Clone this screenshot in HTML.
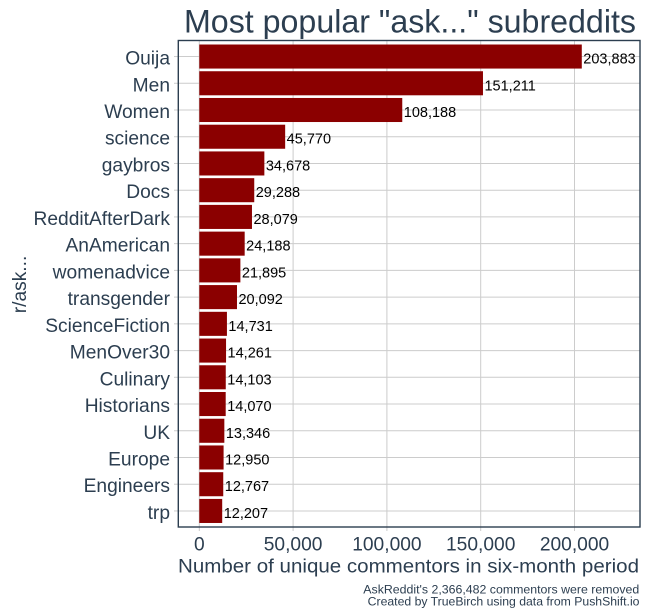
<!DOCTYPE html>
<html><head><meta charset="utf-8"><style>
html,body{margin:0;padding:0;background:#fff;}
svg{display:block;}
text{font-family:"Liberation Sans",Arial,sans-serif;}
</style></head><body>
<svg width="648" height="616" viewBox="0 0 648 616" xmlns="http://www.w3.org/2000/svg">
<rect width="648" height="616" fill="#fff"/>
<text x="184" y="32.5" font-size="32" fill="#2c3e50" textLength="452" lengthAdjust="spacingAndGlyphs">Most popular "ask..." subreddits</text>
<g id="grid" stroke="#cccccc" stroke-width="1">
</g>
<g id="bars"></g>
<rect x="178.3" y="40.5" width="461.7" height="486.5" fill="none" stroke="#2c3e50" stroke-width="1.4"/>
<g font-size="19.2" fill="#2c3e50" text-anchor="middle">
<text x="199.3" y="550.7">0</text>
<text x="293.1" y="550.7">50,000</text>
<text x="386.9" y="550.7">100,000</text>
<text x="480.7" y="550.7">150,000</text>
<text x="574.5" y="550.7">200,000</text>
</g>
<text x="408.5" y="572.5" font-size="19.5" fill="#2c3e50" text-anchor="middle" textLength="461" lengthAdjust="spacingAndGlyphs">Number of unique commentors in six-month period</text>
<text x="26" y="284.5" font-size="19.2" fill="#2c3e50" text-anchor="middle" transform="rotate(-90 26 284.5)">r/ask...</text>
<g font-size="12.2" fill="#2c3e50">
<text x="363.3" y="593.3" textLength="276" lengthAdjust="spacingAndGlyphs">AskReddit's 2,366,482 commentors were removed</text>
<text x="367.7" y="605.3" textLength="271.8" lengthAdjust="spacingAndGlyphs">Created by TrueBirch using data from PushShift.io</text>
</g>
</svg>
<script>
(function(){
var ns="http://www.w3.org/2000/svg";
var data=[["Ouija",203883],["Men",151211],["Women",108188],["science",45770],["gaybros",34678],["Docs",29288],["RedditAfterDark",28079],["AnAmerican",24188],["womenadvice",21895],["transgender",20092],["ScienceFiction",14731],["MenOver30",14261],["Culinary",14103],["Historians",14070],["UK",13346],["Europe",12950],["Engineers",12767],["trp",12207]];
var grid=document.getElementById("grid");
var bars=document.getElementById("bars");
function el(n,a,p){var e=document.createElementNS(ns,n);for(var k in a)e.setAttribute(k,a[k]);p.appendChild(e);return e;}
function fmt(v){return String(v).replace(/\B(?=(\d{3})+(?!\d))/g,",");}
var x0=199.3,s=0.001876,top=40.5,step=26.73;
[0,50000,100000,150000,200000].forEach(function(v){var x=x0+v*s;
el("line",{x1:x,y1:40.5,x2:x,y2:527},grid);
el("line",{x1:x,y1:527,x2:x,y2:531},grid);});
data.forEach(function(d,i){var c=top+(0.6+i)*step;
el("line",{x1:178.3,y1:c,x2:640,y2:c},grid);
el("line",{x1:174,y1:c,x2:178.3,y2:c},grid);
var w=d[1]*s;
el("rect",{x:x0,y:c-12.03,width:w,height:24.06,fill:"#8b0000"},bars);
var t=el("text",{x:x0+w+1.5,y:c+7,"font-size":"14.5",fill:"#000"},bars);
t.textContent=fmt(d[1]);
var l=el("text",{x:170,y:c+8,"font-size":"19.2",fill:"#2c3e50","text-anchor":"end"},bars);
l.textContent=d[0];
});
})();
</script>
</body></html>
